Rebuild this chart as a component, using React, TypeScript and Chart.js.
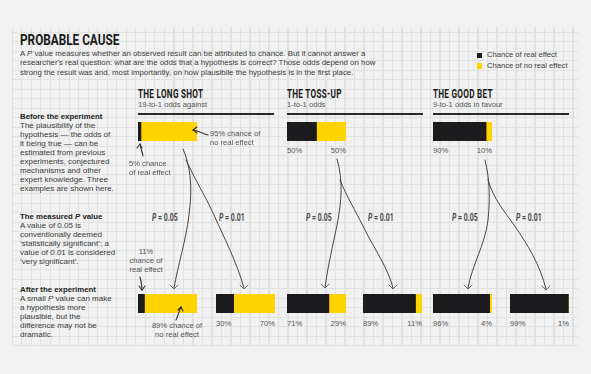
import React, { useEffect, useRef } from "react";
import { Chart, registerables } from "chart.js";

Chart.register(...registerables);

// ---------- data ----------
const scenarios = ["THE LONG SHOT", "THE TOSS-UP", "THE GOOD BET"];
const oddsLabels = ["19-to-1 odds against", "1-to-1 odds", "9-to-1 odds in favour"];
const priorReal = [5, 50, 90];
const priorNoReal = [95, 50, 10];
const pLabels = ["P = 0.05", "P = 0.01"];
const postReal005 = [11, 71, 96];
const postNoReal005 = [89, 29, 4];
const postReal001 = [30, 89, 99];
const postNoReal001 = [70, 11, 1];
const legendLabels = ["Chance of real effect", "Chance of no real effect"];

// ---------- style ----------
const BLACK = "#1b1a1d";
const YELLOW = "#ffd200";
const TEXT = "#3c3c3c";
const GRAY = "#555";
const BODY = "'Liberation Sans', Arial, sans-serif";
const COND = "Roboto, 'DejaVu Sans', sans-serif";

// layout
const colX = [138, 287, 433];
const afterX = [
  [138, 216],
  [287, 363],
  [433, 510],
];
const pLabelX = [
  [152, 219],
  [306, 368],
  [452, 516],
];
const BAR_W = 59;
const BAR_H = 19;

function MiniBar(props: { x: number; y: number; real: number; noReal: number }) {
  const ref = useRef<HTMLCanvasElement>(null);
  useEffect(() => {
    const chart = new Chart(ref.current as HTMLCanvasElement, {
      type: "bar",
      data: {
        labels: [""],
        datasets: [
          {
            label: legendLabels[0],
            data: [props.real],
            backgroundColor: BLACK,
            barPercentage: 1,
            categoryPercentage: 1,
          },
          {
            label: legendLabels[1],
            data: [props.noReal],
            backgroundColor: YELLOW,
            barPercentage: 1,
            categoryPercentage: 1,
          },
        ],
      },
      options: {
        indexAxis: "y",
        responsive: false,
        animation: false,
        layout: { padding: 0 },
        plugins: { legend: { display: false }, tooltip: { enabled: false } },
        scales: {
          x: { stacked: true, min: 0, max: 100, display: false },
          y: { stacked: true, display: false },
        },
      },
    });
    return () => chart.destroy();
  }, []);
  return (
    <canvas
      ref={ref}
      width={BAR_W}
      height={BAR_H}
      style={{ position: "absolute", left: props.x, top: props.y, width: BAR_W, height: BAR_H }}
    />
  );
}

function T(props: {
  x: number;
  y: number;
  size?: number;
  bold?: boolean;
  color?: string;
  font?: string;
  scale?: number;
  align?: "left" | "right" | "center";
  italic?: boolean;
  ls?: number;
  children: React.ReactNode;
}) {
  const size = props.size ?? 8;
  const lh = size * 1.2;
  const align = props.align ?? "left";
  const scale = props.scale ?? 1;
  const origin = align === "left" ? "left" : align === "right" ? "right" : "center";
  const base: React.CSSProperties = {
    position: "absolute",
    top: props.y - lh * 0.55,
    fontSize: size,
    lineHeight: lh + "px",
    fontFamily: props.font ?? BODY,
    fontWeight: props.bold ? 700 : 400,
    fontStyle: props.italic ? "italic" : "normal",
    color: props.color ?? TEXT,
    whiteSpace: "nowrap",
    letterSpacing: props.ls ?? 0,
    transform: scale !== 1 ? `scaleX(${scale})` : undefined,
    transformOrigin: origin,
  };
  if (align === "left") base.left = props.x;
  else if (align === "right") base.right = 591 - props.x;
  else {
    base.left = props.x - 100;
    base.width = 200;
    base.textAlign = "center";
  }
  return <div style={base}>{props.children}</div>;
}

const curves = [
  // long shot
  "M183,149 C190,165 193,185 189,215 C186,240 178,265 174,288",
  "M186,160 C195,180 205,195 214,215 C225,240 236,260 244,288",
  // toss-up
  "M337,159 C343,180 342,200 337,225 C333,245 328,265 325,287",
  "M340,180 C346,195 355,210 365,230 C375,250 388,268 393,288",
  // good bet
  "M485,160 C490,180 490,200 488,220 C485,245 472,265 468,288",
  "M488,180 C494,200 505,212 514,225 C528,245 540,265 546,289",
];
const heads = [
  [174, 289],
  [244, 289],
  [325, 288],
  [393, 289],
  [468, 289],
  [546, 290],
];

export default function App() {
  useEffect(() => {
    document.body.style.margin = "0";
    document.body.style.background = "#f0f1f0";
  }, []);
  const gridStyle: React.CSSProperties = {
    position: "absolute",
    left: 12,
    top: 27,
    width: 566,
    height: 319,
    backgroundColor: "#f0f1f0",
    backgroundImage:
      "repeating-linear-gradient(0deg, #e0e2e1 0px, #e0e2e1 1px, transparent 1px, transparent 9.5px), repeating-linear-gradient(90deg, #e0e2e1 0px, #e0e2e1 1px, transparent 1px, transparent 9.5px)",
  };
  const beforeLines = [
    "The plausibility of the",
    "hypothesis \u2014 the odds of",
    "it being true \u2014 can be",
    "estimated from previous",
    "experiments, conjectured",
    "mechanisms and other",
    "expert knowledge. Three",
    "examples are shown here.",
  ];
  const measuredLines = [
    "A value of 0.05 is",
    "conventionally deemed",
    "\u2018statistically significant\u2019; a",
    "value of 0.01 is considered",
    "\u2018very significant\u2019.",
  ];
  const afterLines = [
    <>A small <i>P</i> value can make</>,
    "a hypothesis more",
    "plausible, but the",
    "difference may not be",
    "dramatic.",
  ];
  return (
    <div style={{ position: "absolute", left: 0, top: 0, width: 591, height: 374, background: "#f0f1f0", overflow: "hidden" }}>
      <div style={gridStyle} />
      <T x={20} y={41} size={15.5} bold font={COND} scale={0.76} color="#1a1a1a">
        PROBABLE CAUSE
      </T>
      <T x={20} y={54} size={7.85}>
        A <i>P</i> value measures whether an observed result can be attributed to chance. But it cannot answer a
      </T>
      <T x={20} y={63.5} size={7.85}>
        researcher's real question: what are the odds that a hypothesis is correct? Those odds depend on how
      </T>
      <T x={20} y={73} size={7.85}>
        strong the result was and, most importantly, on how plausibile the hypothesis is in the first place.
      </T>

      {/* legend */}
      <div style={{ position: "absolute", left: 477, top: 53, width: 5, height: 5, background: BLACK }} />
      <div style={{ position: "absolute", left: 477, top: 63, width: 5, height: 6, background: YELLOW }} />
      <T x={487} y={55.5} size={7.6}>{legendLabels[0]}</T>
      <T x={487} y={66.5} size={7.6}>{legendLabels[1]}</T>

      {/* left column */}
      <T x={20} y={117} size={7.8} bold color="#222">Before the experiment</T>
      {beforeLines.map((l, i) => (
        <T key={"b" + i} x={20} y={126.5 + i * 9} size={8}>{l}</T>
      ))}
      <T x={20} y={217} size={7.8} bold color="#222">
        The measured <i>P</i> value
      </T>
      {measuredLines.map((l, i) => (
        <T key={"m" + i} x={20} y={226 + i * 9} size={8}>{l}</T>
      ))}
      <T x={20} y={290} size={7.8} bold color="#222">After the experiment</T>
      {afterLines.map((l, i) => (
        <T key={"a" + i} x={20} y={299 + i * 9} size={8}>{l}</T>
      ))}

      {/* column headers */}
      {scenarios.map((s, i) => (
        <React.Fragment key={"h" + i}>
          <T x={colX[i]} y={94.5} size={12} bold font={COND} scale={0.68} color="#1a1a1a" ls={0.4}>
            {s}
          </T>
          <T x={colX[i]} y={105} size={7.6} color={GRAY}>{oddsLabels[i]}</T>
          <div style={{ position: "absolute", left: colX[i], top: 113, width: 136, height: 1.5, background: "#2a2a2a" }} />
          <MiniBar x={colX[i]} y={122} real={priorReal[i]} noReal={priorNoReal[i]} />
          <MiniBar x={afterX[i][0]} y={294} real={postReal005[i]} noReal={postNoReal005[i]} />
          <MiniBar x={afterX[i][1]} y={294} real={postReal001[i]} noReal={postNoReal001[i]} />
          {[0, 1].map((k) => (
            <T
              key={"p" + k}
              x={pLabelX[i][k]}
              y={219}
              size={10.5}
              bold
              font={COND}
              scale={0.66}
              color="#4a4a4a"
            >
              <i>P</i>
              {pLabels[k].slice(1)}
            </T>
          ))}
        </React.Fragment>
      ))}

      {/* percentage labels */}
      {[1, 2].map((i) => (
        <React.Fragment key={"pl" + i}>
          <T x={colX[i]} y={151} size={7.6} color={GRAY}>{priorReal[i]}%</T>
          <T x={colX[i] + BAR_W} y={151} size={7.6} color={GRAY} align="right">{priorNoReal[i]}%</T>
        </React.Fragment>
      ))}
      {[0, 1, 2].map((i) => (
        <React.Fragment key={"al" + i}>
          {i > 0 && <T x={afterX[i][0]} y={324} size={7.6} color={GRAY}>{postReal005[i]}%</T>}
          {i > 0 && (
            <T x={afterX[i][0] + BAR_W} y={324} size={7.6} color={GRAY} align="right">{postNoReal005[i]}%</T>
          )}
          <T x={afterX[i][1]} y={324} size={7.6} color={GRAY}>{postReal001[i]}%</T>
          <T x={afterX[i][1] + BAR_W} y={324} size={7.6} color={GRAY} align="right">{postNoReal001[i]}%</T>
        </React.Fragment>
      ))}

      {/* long shot annotations */}
      <T x={210} y={134} size={7.6} color={GRAY}>{priorNoReal[0]}% chance of</T>
      <T x={210} y={143} size={7.6} color={GRAY}>no real effect</T>
      <T x={129} y={164} size={7.6} color={GRAY}>{priorReal[0]}% chance</T>
      <T x={129} y={173} size={7.6} color={GRAY}>of real effect</T>
      <T x={146} y={252} size={7.6} color={GRAY} align="center">{postReal005[0]}%</T>
      <T x={146} y={261} size={7.6} color={GRAY} align="center">chance of</T>
      <T x={146} y={270} size={7.6} color={GRAY} align="center">real effect</T>
      <T x={177} y={326} size={7.6} color={GRAY} align="center">{postNoReal005[0]}% chance of</T>
      <T x={177} y={335} size={7.6} color={GRAY} align="center">no real effect</T>

      <svg width={591} height={374} style={{ position: "absolute", left: 0, top: 0 }}>
        <g fill="none" stroke="#333" strokeWidth={0.9} strokeLinecap="round">
          {curves.map((d, i) => (
            <path key={i} d={d} />
          ))}
          {heads.map(([x, y], i) => (
            <path key={"hd" + i} d={`M${x - 4},${y - 4} L${x},${y} L${x + 4},${y - 4}`} strokeWidth={0.7} />
          ))}
          {/* 95% arrow */}
          <path d="M208,135 C202,133 198,131 193,130" strokeWidth={1.1} />
          <path d="M197,127 L193,130 L197,133" strokeWidth={1.1} />
          {/* 5% arrow */}
          <path d="M143,156 C142,152 141,148 140,144" strokeWidth={1.1} />
          <path d="M137,148 L140,144 L142,148" strokeWidth={1.1} />
          {/* 11% arrow */}
          <path d="M140,277 C141,281 142,285 142,290" strokeWidth={1.1} />
          <path d="M139,286 L142,290 L145,286" strokeWidth={1.1} />
          {/* 89% arrow */}
          <path d="M176,320 C178,316 179,311 181,307" strokeWidth={1.1} />
          <path d="M178,310 L181,307 L183,311" strokeWidth={1.1} />
        </g>
      </svg>
    </div>
  );
}
